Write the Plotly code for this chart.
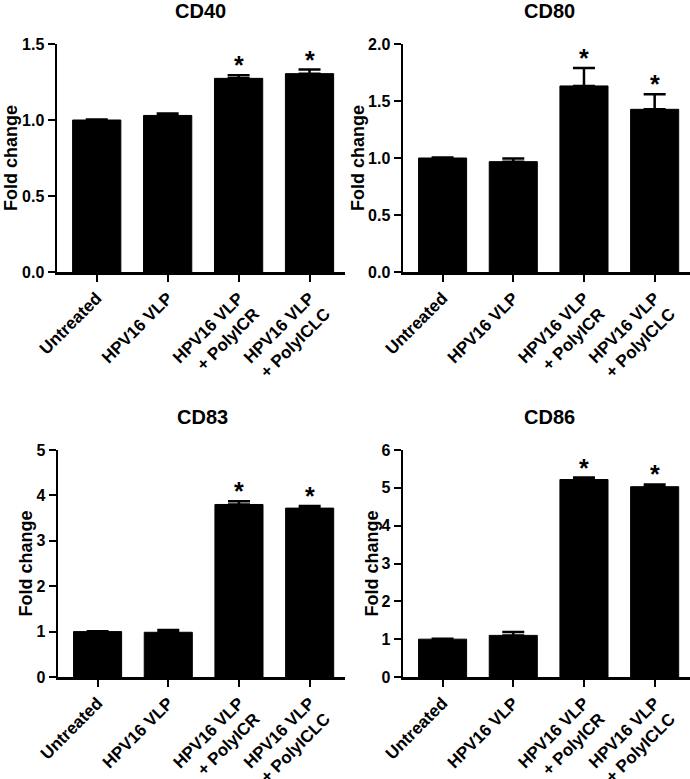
import plotly.graph_objects as go

categories = ["Untreated", "HPV16 VLP", "HPV16 VLP<br>+ PolyICR", "HPV16 VLP<br>+ PolyICLC"]

cd40_values = [1.0, 1.03, 1.274, 1.305]
cd40_errors = [0.004, 0.012, 0.02, 0.027]
cd80_values = [1.0, 0.968, 1.632, 1.427]
cd80_errors = [0.005, 0.027, 0.158, 0.132]
cd83_values = [1.0, 0.985, 3.80, 3.72]
cd83_errors = [0.01, 0.05, 0.07, 0.045]
cd86_values = [1.0, 1.10, 5.22, 5.03]
cd86_errors = [0.01, 0.09, 0.05, 0.06]

significant = [False, False, True, True]

panel_titles = ["CD40", "CD80", "CD83", "CD86"]
y_ranges = [[0, 1.5], [0, 2.0], [0, 5], [0, 6]]
y_dticks = [0.5, 0.5, 1, 1]
y_formats = [".1f", ".1f", "d", "d"]

panels = [
    (cd40_values, cd40_errors),
    (cd80_values, cd80_errors),
    (cd83_values, cd83_errors),
    (cd86_values, cd86_errors),
]

W, H = 690, 779
FONT = "Liberation Sans, Arial, Helvetica, sans-serif"

# pixel layout (left, right, top, bottom) of each plot area
px_boxes = [
    (57, 345, 44, 272),
    (403, 690, 44, 272),
    (58, 345, 450, 677),
    (403, 690, 450, 677),
]
title_px = [(200, 11), (549, 11), (202, 417), (549, 417)]
ytitle_px = [11, 358, 25, 371]


def fx(p):
    return p / W


def fy(p):
    return 1 - p / H


fig = go.Figure()
xs = [0, 1, 2, 3]
annotations = []
for i, ((vals, errs), box) in enumerate(zip(panels, px_boxes)):
    n = "" if i == 0 else str(i + 1)
    l, r, t, b = box
    fig.add_trace(go.Bar(
        x=xs, y=vals,
        width=0.68,
        marker=dict(color="black", line=dict(color="black", width=1)),
        error_y=dict(type="data", array=errs, arrayminus=[0] * 4, symmetric=False,
                     color="black", thickness=2.5, width=11),
        xaxis="x" + n, yaxis="y" + n,
        showlegend=False, hoverinfo="skip",
    ))
    fig.layout["xaxis" + n] = dict(
        domain=[fx(l), min(fx(r), 1)], anchor="y" + n, automargin=False,
        range=[-0.56, 3.5],
        tickmode="array", tickvals=xs, ticktext=categories,
        tickangle=-45,
        ticks="outside", ticklen=7, tickwidth=2, tickcolor="black",
        showline=True, linecolor="black", linewidth=2.5,
        showgrid=False, zeroline=False,
        tickfont=dict(family=FONT, size=17, color="black", weight="bold"),
    )
    fig.layout["yaxis" + n] = dict(
        domain=[fy(b), fy(t)], anchor="x" + n, automargin=False,
        range=y_ranges[i], dtick=y_dticks[i], tick0=0, tickformat=y_formats[i],
        ticks="outside", ticklen=7, tickwidth=2, tickcolor="black",
        showline=True, linecolor="black", linewidth=2.5,
        showgrid=False, zeroline=False,
        tickfont=dict(family=FONT, size=16, color="black", weight="bold"),
    )
    tx, ty = title_px[i]
    annotations.append(dict(
        text=panel_titles[i], x=fx(tx), y=fy(ty), xref="paper", yref="paper",
        xanchor="center", yanchor="middle", showarrow=False,
        font=dict(family=FONT, size=20, color="black", weight="bold"),
    ))
    annotations.append(dict(
        text="Fold change", x=fx(ytitle_px[i]), y=fy((t + b) / 2),
        xref="paper", yref="paper", textangle=-90,
        xanchor="center", yanchor="middle", showarrow=False,
        font=dict(family=FONT, size=18, color="black", weight="bold"),
    ))
    for j, sig in enumerate(significant):
        if sig:
            annotations.append(dict(
                text="*", x=xs[j], y=vals[j] + errs[j],
                xref="x" + n, yref="y" + n,
                xanchor="center", yanchor="middle", yshift=10, showarrow=False,
                font=dict(family=FONT, size=25, color="black", weight="bold"),
            ))

fig.update_layout(
    template="none",
    width=W, height=H,
    margin=dict(l=0, r=0, t=0, b=0, autoexpand=False),
    paper_bgcolor="white", plot_bgcolor="white",
    annotations=annotations,
    bargap=0.3,
)

# remove the browser's default 8px body margin so the figure fills the window
fig.write_html(
    "out.html",
    config={"displayModeBar": False, "staticPlot": True},
    post_script="document.body.style.margin='0';document.body.style.overflow='hidden';",
)
